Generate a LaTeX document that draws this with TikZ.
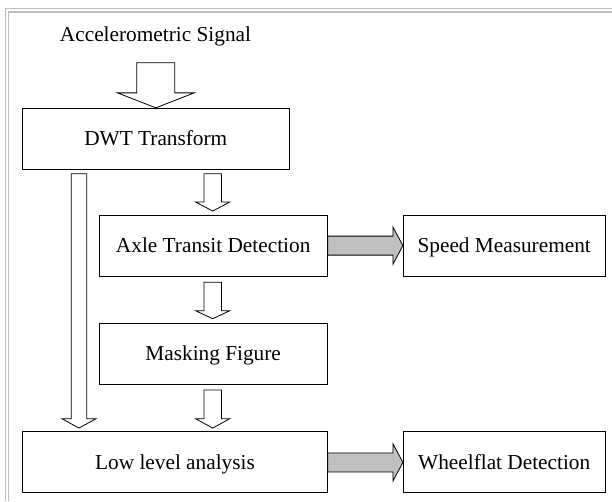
\documentclass[tikz,border=0pt]{standalone}
\usepackage{fontspec}
\setmainfont{Liberation Serif}
\usetikzlibrary{calc}

\definecolor{framegray}{RGB}{190,190,190}
\definecolor{arrowgray}{RGB}{192,192,192}

\tikzset{
  stage/.style={draw=black, line width=0.9pt, fill=white, inner sep=0pt,
    text height=18.98pt, text depth=4.6pt, minimum height=61pt,
    font=\fontsize{21.3pt}{25pt}\selectfont},
  label/.style={inner sep=0pt, font=\fontsize{21.3pt}{25pt}\selectfont},
  blockline/.style={draw=black, line width=0.8pt, fill=white, line join=miter},
  grayblock/.style={blockline, fill=arrowgray},
  frameline/.style={draw=framegray, line width=1.5pt},
}

% hollow block arrow pointing down: #2 top of shaft, #3 tip,
% #4 half shaft width, #5 half head width, #6 head length
\newcommand{\downblock}[6][blockline]{%
  \path[#1] ($(#2)+(-#4,0)$) -- ($(#3)+(-#4,-#6)$) -- ($(#3)+(-#5,-#6)$)
    -- (#3) -- ($(#3)+(#5,-#6)$) -- ($(#3)+(#4,-#6)$) -- ($(#2)+(#4,0)$) -- cycle;}

% block arrow pointing right: #2 start of shaft, #3 tip
\newcommand{\rightblock}[6][grayblock]{%
  \path[#1] ($(#2)+(0,-#4)$) -- ($(#3)+(-#6,-#4)$) -- ($(#3)+(-#6,-#5)$)
    -- (#3) -- ($(#3)+(-#6,#5)$) -- ($(#3)+(-#6,#4)$) -- ($(#2)+(0,#4)$) -- cycle;}

\begin{document}
\begin{tikzpicture}[x=1pt, y=-1pt]
  \useasboundingbox (0,0) rectangle (612,501);
  \fill[white] (0,0) rectangle (612,501);

  % double frame along the top and left edges
  \draw[frameline] (5.5,501) -- (5.5,8.7) -- (612,8.7);
  \draw[frameline] (8.7,501) -- (8.7,11.8) -- (612,11.8);

  % stages
  \node[label, anchor=base] (signal) at (155.5,41.7) {Accelerometric Signal};
  \node[stage, minimum width=266.3pt] (dwt)   at (155.8,138.8) {DWT Transform};
  \node[stage, minimum width=228.3pt] (axle)  at (213.2,245.6) {Axle Transit Detection};
  \node[stage, minimum width=201.7pt] (speed) at (504.2,245.6) {Speed Measurement};
  \node[stage, minimum width=228.3pt] (mask)  at (213.2,353.7) {Masking Figure};
  \node[stage, minimum width=304.6pt] (low)   at (175.0,462.4) {Low level analysis};
  \node[stage, minimum width=201.7pt] (wheel) at (504.2,462.4) {Wheelflat Detection};

  % anchor points of the hollow arrows
  \coordinate (sigtop) at ($(signal.base)+(0.2,21)$);
  \coordinate (a1top)  at ($(dwt.south -| axle.north)+(-0.5,4)$);
  \coordinate (a1tip)  at ($(a1top |- axle.north)+(0,-3.6)$);
  \coordinate (a2top)  at ($(axle.south)+(-0.5,5.7)$);
  \coordinate (a2tip)  at ($(a2top |- mask.north)+(0,-4)$);
  \coordinate (a3top)  at ($(mask.south)+(-0.5,5.3)$);
  \coordinate (a3tip)  at ($(a3top |- low.north)+(0,-3.4)$);
  \coordinate (bytop)  at ($(dwt.south west)+(56.8,4)$);
  \coordinate (bytip)  at ($(bytop |- low.north)+(0,-3.4)$);

  % hollow arrows
  \downblock{sigtop}{dwt.north}{19}{38.4}{15}
  \downblock{a1top}{a1tip}{8.7}{17}{9}
  \downblock{a2top}{a2tip}{8.7}{17}{8}
  \downblock{a3top}{a3tip}{8.7}{17}{9.3}
  \downblock{bytop}{bytip}{7.8}{17}{9.3}

  % shaded arrows to the outputs
  \rightblock{axle.east}{speed.west}{9.5}{18.7}{10}
  \rightblock{low.east}{wheel.west}{9.5}{18.7}{10}
\end{tikzpicture}
\end{document}
